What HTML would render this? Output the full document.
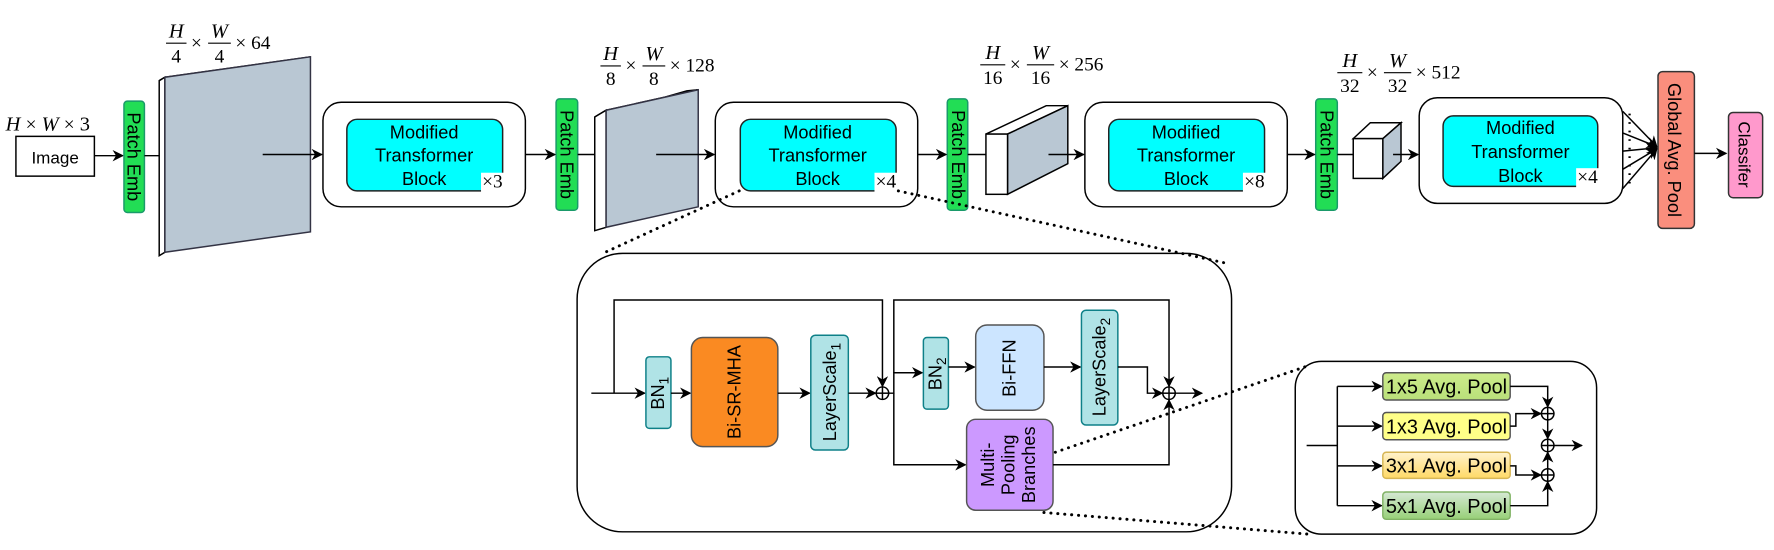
<!DOCTYPE html>
<html><head><meta charset="utf-8"><style>
html,body{margin:0;padding:0;background:#fff;}
svg{display:block;}
text{font-family:"Liberation Sans",sans-serif;fill:#000;}
.m{font-family:"Liberation Serif",serif;font-size:17px;}
.mi{font-family:"Liberation Serif",serif;font-style:italic;font-size:18px;}
</style></head><body>
<svg width="1774" height="550" viewBox="0 0 1560 484" preserveAspectRatio="none" xmlns="http://www.w3.org/2000/svg">
<defs>
<marker id="a" viewBox="0 0 10 10" refX="9" refY="5" markerWidth="10" markerHeight="10" orient="auto" markerUnits="userSpaceOnUse"><path d="M0,0 L10,5 L0,10 L3,5 z" fill="#000"/></marker>
<linearGradient id="g1" x1="0" y1="0" x2="0" y2="1"><stop offset="0" stop-color="#cdeb8b"/><stop offset="1" stop-color="#b9e07a"/></linearGradient>
<linearGradient id="g3" x1="0" y1="0" x2="0" y2="1"><stop offset="0" stop-color="#fff2cc"/><stop offset="1" stop-color="#ffd966"/></linearGradient>
<linearGradient id="g4" x1="0" y1="0" x2="0" y2="1"><stop offset="0" stop-color="#d5e8d4"/><stop offset="1" stop-color="#97d077"/></linearGradient>
</defs>
<g stroke="#000" stroke-width="1.3" fill="none">

<!-- Input -->
<text x="5" y="115" class="mi" stroke="none">H <tspan class="m" font-style="normal">×</tspan> W <tspan class="m" font-style="normal">×</tspan> <tspan font-style="normal">3</tspan></text>
<rect x="14" y="120" width="69" height="35" fill="#fff"/>
<text x="48.5" y="144" font-size="15" text-anchor="middle" stroke="none">Image</text>
<line x1="83" y1="137" x2="108" y2="137" marker-end="url(#a)"/>

<!-- Patch Emb boxes -->
<rect x="109" y="89" width="18" height="98" rx="3" fill="#22dd55" stroke="#1a9a6a"/>
<text transform="translate(112,138) rotate(90)" font-size="16" text-anchor="middle" stroke="none">Patch Emb</text>
<rect x="489" y="87" width="19" height="98" rx="3" fill="#22dd55" stroke="#1a9a6a"/>
<text transform="translate(493,136) rotate(90)" font-size="16" text-anchor="middle" stroke="none">Patch Emb</text>
<rect x="833" y="87" width="18" height="98" rx="3" fill="#22dd55" stroke="#1a9a6a"/>
<text transform="translate(837,136) rotate(90)" font-size="16" text-anchor="middle" stroke="none">Patch Emb</text>
<rect x="1157" y="87" width="19" height="98" rx="3" fill="#22dd55" stroke="#1a9a6a"/>
<text transform="translate(1161,136) rotate(90)" font-size="16" text-anchor="middle" stroke="none">Patch Emb</text>

<!-- Slab 1 -->
<line x1="127" y1="137" x2="141" y2="137"/>
<polygon points="140,71 268,53 273,50 145,68" fill="#fff"/>
<polygon points="140,71 145,68 145,222 140,225" fill="#fff"/>
<polygon points="145,68 273,50 273,204 145,222" fill="#b9c7d3" stroke="#334"/>
<line x1="231" y1="136" x2="283" y2="136" marker-end="url(#a)"/>

<!-- Slab 2 -->
<line x1="508" y1="136" x2="523" y2="136"/>
<polygon points="523,103 604,80 614,79 533,97" fill="#fff"/>
<polygon points="523,103 533,97 533,200 523,203" fill="#fff"/>
<polygon points="533,97 614,79 614,182 533,200" fill="#b9c7d3" stroke="#334"/>
<line x1="577" y1="136" x2="628" y2="136" marker-end="url(#a)"/>

<!-- Cube 3 -->
<line x1="851" y1="136" x2="867" y2="136"/>
<polygon points="867,118 920,93 939,93 886,118" fill="#fff"/>
<polygon points="886,118 939,93 939,144 886,171" fill="#b9c7d3"/>
<rect x="867" y="118" width="19" height="53" fill="#fff"/>
<line x1="922" y1="136" x2="953" y2="136" marker-end="url(#a)"/>

<!-- Cube 4 -->
<line x1="1176" y1="136" x2="1190" y2="136"/>
<polygon points="1190,122 1205,108 1232,108 1216,122" fill="#fff"/>
<polygon points="1216,122 1232,108 1232,142 1216,157" fill="#b9c7d3"/>
<rect x="1190" y="122" width="26" height="35" fill="#fff"/>
<line x1="1225" y1="136" x2="1247" y2="136" marker-end="url(#a)"/>

<!-- Blocks -->
<rect x="284" y="90" width="178" height="92" rx="16" fill="#fff"/>
<rect x="305" y="105" width="137" height="63" rx="9" fill="#00ffff" stroke="#222"/>
<text x="373" y="122" font-size="16" text-anchor="middle" stroke="none">Modified</text>
<text x="373" y="142" font-size="16" text-anchor="middle" stroke="none">Transformer</text>
<text x="373" y="163" font-size="16" text-anchor="middle" stroke="none">Block</text>
<rect x="423" y="152" width="21" height="17" fill="#fff" stroke="none"/>
<text x="424" y="165" class="m" stroke="none">×3</text>
<line x1="462" y1="136" x2="488" y2="136" marker-end="url(#a)"/>

<rect x="629" y="90" width="178" height="92" rx="16" fill="#fff"/>
<rect x="651" y="105" width="137" height="63" rx="9" fill="#00ffff" stroke="#222"/>
<text x="719" y="122" font-size="16" text-anchor="middle" stroke="none">Modified</text>
<text x="719" y="142" font-size="16" text-anchor="middle" stroke="none">Transformer</text>
<text x="719" y="163" font-size="16" text-anchor="middle" stroke="none">Block</text>
<rect x="769" y="152" width="21" height="17" fill="#fff" stroke="none"/>
<text x="770" y="165" class="m" stroke="none">×4</text>
<line x1="807" y1="136" x2="832" y2="136" marker-end="url(#a)"/>

<rect x="954" y="90" width="178" height="92" rx="16" fill="#fff"/>
<rect x="975" y="105" width="137" height="63" rx="9" fill="#00ffff" stroke="#222"/>
<text x="1043" y="122" font-size="16" text-anchor="middle" stroke="none">Modified</text>
<text x="1043" y="142" font-size="16" text-anchor="middle" stroke="none">Transformer</text>
<text x="1043" y="163" font-size="16" text-anchor="middle" stroke="none">Block</text>
<rect x="1093" y="152" width="21" height="17" fill="#fff" stroke="none"/>
<text x="1094" y="165" class="m" stroke="none">×8</text>
<line x1="1132" y1="136" x2="1156" y2="136" marker-end="url(#a)"/>

<rect x="1248" y="86" width="179" height="93" rx="16" fill="#fff"/>
<rect x="1269" y="102" width="136" height="62" rx="9" fill="#00ffff" stroke="#222"/>
<text x="1337" y="118" font-size="16" text-anchor="middle" stroke="none">Modified</text>
<text x="1337" y="139" font-size="16" text-anchor="middle" stroke="none">Transformer</text>
<text x="1337" y="160" font-size="16" text-anchor="middle" stroke="none">Block</text>
<rect x="1386" y="148" width="22" height="17" fill="#fff" stroke="none"/>
<text x="1387" y="161" class="m" stroke="none">×4</text>

<!-- fan -->
<line x1="1427" y1="98" x2="1457" y2="129" marker-end="url(#a)"/>
<line x1="1427" y1="117" x2="1457" y2="129" marker-end="url(#a)"/>
<line x1="1427" y1="133" x2="1457" y2="130" marker-end="url(#a)"/>
<line x1="1427" y1="149" x2="1457" y2="131" marker-end="url(#a)"/>
<line x1="1427" y1="166" x2="1457" y2="131" marker-end="url(#a)"/>
<line x1="1433" y1="100" x2="1433" y2="165" stroke-dasharray="1.5 6" stroke-width="2"/>

<rect x="1458" y="63" width="32" height="138" rx="4" fill="#fa8e7d" stroke="#333"/>
<text transform="translate(1467,132) rotate(90)" font-size="16" text-anchor="middle" stroke="none">Global Avg. Pool</text>
<line x1="1490" y1="135" x2="1518" y2="135" marker-end="url(#a)"/>
<rect x="1520" y="99" width="30" height="75" rx="4" fill="#ff99cc" stroke="#333"/>
<text transform="translate(1529,136) rotate(90)" font-size="15" text-anchor="middle" stroke="none">Classifer</text>

<!-- Detail box -->
<rect x="507.5" y="223" width="575.5" height="245" rx="40" fill="#fff"/>
<line x1="520" y1="346" x2="567" y2="346" marker-end="url(#a)"/>
<polyline points="540,346 540,264 776,264 776,340" marker-end="url(#a)"/>
<rect x="568" y="314" width="22" height="63" rx="3" fill="#b0e3e6" stroke="#0e8088"/>
<text transform="translate(584,346) rotate(-90)" font-size="16" text-anchor="middle" stroke="none">BN<tspan font-size="12" dy="4">1</tspan></text>
<line x1="590" y1="346" x2="607" y2="346" marker-end="url(#a)"/>
<rect x="608" y="297" width="76" height="96" rx="10" fill="#fa8a22" stroke="#555"/>
<text transform="translate(651,345) rotate(-90)" font-size="16" text-anchor="middle" stroke="none">Bi-SR-MHA</text>
<line x1="684" y1="346" x2="712" y2="346" marker-end="url(#a)"/>
<rect x="713" y="295" width="33" height="101" rx="4" fill="#b0e3e6" stroke="#0e8088"/>
<text transform="translate(735,345) rotate(-90)" font-size="16" text-anchor="middle" stroke="none">LayerScale<tspan font-size="12" dy="4">1</tspan></text>
<line x1="746" y1="346" x2="770" y2="346" marker-end="url(#a)"/>
<circle cx="776" cy="346" r="5.5" fill="#fff"/>
<line x1="770.5" y1="346" x2="781.5" y2="346"/><line x1="776" y1="340.5" x2="776" y2="351.5"/>

<polyline points="781.5,346 786,346 786,328 811,328" marker-end="url(#a)"/>
<polyline points="786,328 786,264 1028,264 1028,340" marker-end="url(#a)"/>
<polyline points="786,346 786,409 849,409" marker-end="url(#a)"/>
<rect x="812" y="297" width="22" height="63" rx="3" fill="#b0e3e6" stroke="#0e8088"/>
<text transform="translate(828,329) rotate(-90)" font-size="16" text-anchor="middle" stroke="none">BN<tspan font-size="12" dy="4">2</tspan></text>
<line x1="834" y1="323" x2="857" y2="323" marker-end="url(#a)"/>
<rect x="858" y="286" width="60" height="75" rx="10" fill="#cce5ff" stroke="#555"/>
<text transform="translate(893,324) rotate(-90)" font-size="16" text-anchor="middle" stroke="none">Bi-FFN</text>
<line x1="918" y1="323" x2="950" y2="323" marker-end="url(#a)"/>
<rect x="951" y="273" width="32" height="101" rx="4" fill="#b0e3e6" stroke="#0e8088"/>
<text transform="translate(972,323) rotate(-90)" font-size="16" text-anchor="middle" stroke="none">LayerScale<tspan font-size="12" dy="4">2</tspan></text>
<polyline points="983,323 1009,323 1009,346 1022,346" marker-end="url(#a)"/>
<rect x="850" y="369" width="76" height="80" rx="8" fill="#cc99ff" stroke="#555"/>
<text transform="translate(888,409) rotate(-90)" font-size="16" text-anchor="middle" stroke="none"><tspan x="0" y="-14">Multi-</tspan><tspan x="0" y="4">Pooling</tspan><tspan x="0" y="22">Branches</tspan></text>
<polyline points="926,409 1028,409 1028,352" marker-end="url(#a)"/>
<circle cx="1028" cy="346" r="5.5" fill="#fff"/>
<line x1="1022.5" y1="346" x2="1033.5" y2="346"/><line x1="1028" y1="340.5" x2="1028" y2="351.5"/>
<line x1="1033.5" y1="346" x2="1057" y2="346" marker-end="url(#a)"/>

<!-- Pooling box -->
<rect x="1139" y="318" width="265" height="152" rx="23" fill="#fff"/>
<line x1="1149" y1="392" x2="1176" y2="392"/>
<line x1="1176" y1="340" x2="1176" y2="445"/>
<line x1="1176" y1="340" x2="1215" y2="340" marker-end="url(#a)"/>
<line x1="1176" y1="375" x2="1215" y2="375" marker-end="url(#a)"/>
<line x1="1176" y1="410" x2="1215" y2="410" marker-end="url(#a)"/>
<line x1="1176" y1="445" x2="1215" y2="445" marker-end="url(#a)"/>
<rect x="1216" y="328" width="112" height="24" rx="3" fill="url(#g1)" stroke="#555"/>
<rect x="1216" y="363" width="112" height="24" rx="3" fill="#ffff88" stroke="#555"/>
<rect x="1216" y="398" width="112" height="23" rx="3" fill="url(#g3)" stroke="#d6b656"/>
<rect x="1216" y="433" width="112" height="24" rx="3" fill="url(#g4)" stroke="#82b366"/>
<text x="1272" y="346.5" font-size="17.5" text-anchor="middle" stroke="none">1x5 Avg. Pool</text>
<text x="1272" y="381.5" font-size="17.5" text-anchor="middle" stroke="none">1x3 Avg. Pool</text>
<text x="1272" y="416" font-size="17.5" text-anchor="middle" stroke="none">3x1 Avg. Pool</text>
<text x="1272" y="451.5" font-size="17.5" text-anchor="middle" stroke="none">5x1 Avg. Pool</text>
<polyline points="1328,340 1361,340 1361,358" marker-end="url(#a)"/>
<polyline points="1328,375 1333,375 1333,364 1355,364" marker-end="url(#a)"/>
<line x1="1361" y1="369.5" x2="1361" y2="386" marker-end="url(#a)"/>
<polyline points="1328,410 1333,410 1333,418 1355,418" marker-end="url(#a)"/>
<line x1="1361" y1="412.5" x2="1361" y2="398" marker-end="url(#a)"/>
<polyline points="1328,445 1361,445 1361,424" marker-end="url(#a)"/>
<g fill="#fff">
<circle cx="1361" cy="364" r="5.5"/><circle cx="1361" cy="392" r="5.5"/><circle cx="1361" cy="418" r="5.5"/>
</g>
<path d="M1355.5,364h11M1361,358.5v11M1355.5,392h11M1361,386.5v11M1355.5,418h11M1361,412.5v11"/>
<line x1="1366.5" y1="392" x2="1391" y2="392" marker-end="url(#a)"/>

<!-- Dotted zoom lines (on top) -->
<g stroke-dasharray="0.1 6" stroke-width="2.6" stroke-linecap="round">
<line x1="650" y1="168" x2="530" y2="223"/>
<line x1="790" y1="168" x2="1080" y2="232"/>
<line x1="928" y1="398" x2="1150" y2="322"/>
<line x1="918" y1="451" x2="1150" y2="470"/>
</g>
</g>

<!-- Dimension labels -->
<g stroke="#000" stroke-width="1">
<line x1="146" y1="38" x2="164" y2="38"/><line x1="183" y1="38" x2="203" y2="38"/>
<line x1="528" y1="58" x2="546" y2="58"/><line x1="565" y1="58" x2="585" y2="58"/>
<line x1="862" y1="57" x2="884" y2="57"/><line x1="903" y1="57" x2="927" y2="57"/>
<line x1="1176" y1="64" x2="1198" y2="64"/><line x1="1217" y1="64" x2="1241" y2="64"/>
</g>
<g>
<text x="155" y="33" class="mi" text-anchor="middle">H</text><text x="155" y="55" class="m" text-anchor="middle">4</text>
<text x="168" y="43" class="m">×</text>
<text x="193" y="33" class="mi" text-anchor="middle">W</text><text x="193" y="55" class="m" text-anchor="middle">4</text>
<text x="207" y="43" class="m">× 64</text>

<text x="537" y="53" class="mi" text-anchor="middle">H</text><text x="537" y="75" class="m" text-anchor="middle">8</text>
<text x="550" y="63" class="m">×</text>
<text x="575" y="53" class="mi" text-anchor="middle">W</text><text x="575" y="75" class="m" text-anchor="middle">8</text>
<text x="589" y="63" class="m">× 128</text>

<text x="873" y="52" class="mi" text-anchor="middle">H</text><text x="873" y="74" class="m" text-anchor="middle">16</text>
<text x="888" y="62" class="m">×</text>
<text x="915" y="52" class="mi" text-anchor="middle">W</text><text x="915" y="74" class="m" text-anchor="middle">16</text>
<text x="931" y="62" class="m">× 256</text>

<text x="1187" y="59" class="mi" text-anchor="middle">H</text><text x="1187" y="81" class="m" text-anchor="middle">32</text>
<text x="1202" y="69" class="m">×</text>
<text x="1229" y="59" class="mi" text-anchor="middle">W</text><text x="1229" y="81" class="m" text-anchor="middle">32</text>
<text x="1245" y="69" class="m">× 512</text>
</g>
</svg>
</body></html>
